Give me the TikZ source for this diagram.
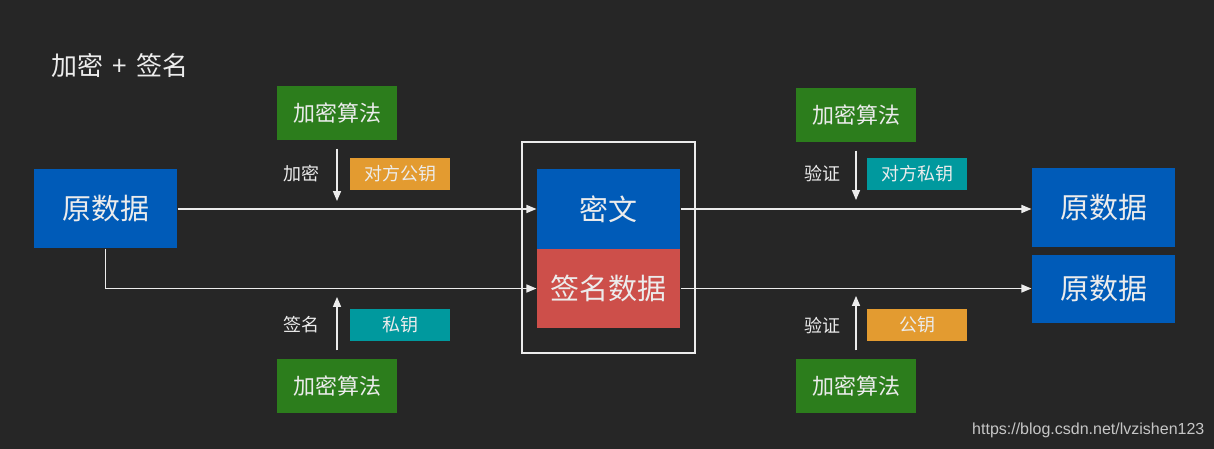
\documentclass[tikz,border=0pt]{standalone}
\usepackage{fontspec}
\setmainfont{Noto Sans CJK SC}
\newfontfamily\latinfont{Liberation Sans}
\usetikzlibrary{%
  arrows,%
  positioning,%
  calc%
}
\definecolor{bgdark}{HTML}{262626}
\definecolor{boxblue}{HTML}{005BB8}
\definecolor{algogreen}{HTML}{2C7D1C}
\definecolor{keyorange}{HTML}{E39B30}
\definecolor{keyteal}{HTML}{00999E}
\definecolor{signred}{HTML}{CD4F4A}
\definecolor{lighttext}{HTML}{ECECEC}

\begin{document}
\begin{tikzpicture}
  [
  x=1pt, y=-1pt, color=lighttext, >=triangle 45, line width=1.3pt,
  data/.style={rectangle, minimum height=79pt, minimum width=143pt, inner sep=0pt, fill=boxblue, font=\fontsize{29}{29}\selectfont},
  part/.style={rectangle, minimum height=80pt, minimum width=143pt, inner sep=0pt, font=\fontsize{29}{29}\selectfont},
  algo/.style={rectangle, minimum height=54pt, minimum width=120pt, inner sep=0pt, fill=algogreen, font=\fontsize{22}{22}\selectfont},
  key/.style={rectangle, minimum height=32pt, minimum width=100pt, inner sep=0pt, font=\fontsize{18}{18}\selectfont},
  action/.style={inner sep=0pt, font=\fontsize{18}{18}\selectfont}
  ]

\fill[bgdark] (0,0) rectangle (1214,449);
\useasboundingbox (0,0) rectangle (1214,449);

\node[anchor=west, inner sep=0pt, font=\fontsize{26}{26}\selectfont] (title) at (51,66) {加密\hspace{9pt}+\hspace{9pt}签名};

% sender side
\node[data] (src) at (105.5,208.5) {原数据};
\node[algo] (encalgo) at (337,113) {加密算法};
\node[algo] (signalgo) at (337,386) {加密算法};
\node[key, fill=keyorange] (peerpub) at (400,174) {对方公钥};
\node[key, fill=keyteal] (ownpriv) at (400,325) {私钥};
\node[action] (encact) at (301,174) {加密};
\node[action] (signact) at (301,325) {签名};

% packet
\node[draw, minimum width=173pt, minimum height=211pt, inner sep=0pt] (packet) at (608.5,247.5) {};
\node[part, fill=boxblue] (cipher) at (608.5,209) {密文};
\node[part, fill=signred, minimum height=79pt] (sig) at (608.5,288.5) {签名数据};

% receiver side
\node[algo] (decalgo) at (856,115) {加密算法};
\node[algo] (veralgo) at (856,386) {加密算法};
\node[key, fill=keyteal] (peerpriv) at (917,174) {对方私钥};
\node[key, fill=keyorange] (ownpub) at (917,325) {公钥};
\node[action] (decact) at (822,174) {验证};
\node[action] (veract) at (822,326) {验证};
\node[data] (dst1) at (1103.5,207.5) {原数据};
\node[data, minimum height=68pt] (dst2) at (1103.5,289) {原数据};

\node[anchor=east, inner sep=0pt, text=gray!45, font=\latinfont\fontsize{16}{16}\selectfont] (credit) at (1205,430) {https://blog.csdn.net/lvzishen123};

\coordinate (enctip) at (337,201);
\coordinate (signtip) at (337,297);
\coordinate (dectip) at (856,200);
\coordinate (vertip) at (856,296);

\draw[->,shorten <=8pt] (encalgo.south) -- (enctip);
\draw[->,shorten <=8pt] (signalgo.north) -- (signtip);
\draw[->,shorten <=8pt] (decalgo.south) -- (dectip);
\draw[->,shorten <=8pt] (veralgo.north) -- (vertip);

\draw[->] (src.east |- cipher.west) -- (cipher.west);
\draw[->] (src.south) |- (sig.west);
\draw[->] (cipher.east) -- (cipher.east -| dst1.west);
\draw[->] (sig.east) -- (sig.east -| dst2.west);

\end{tikzpicture}
\end{document}
